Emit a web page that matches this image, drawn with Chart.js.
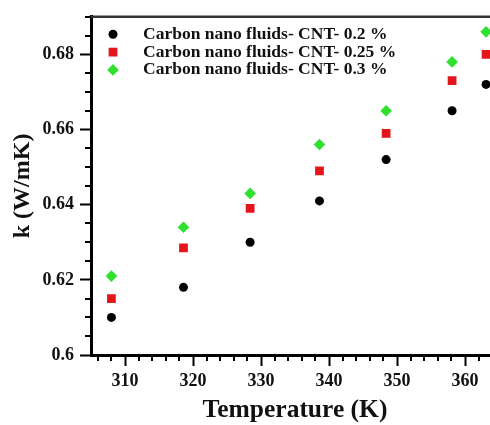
<!DOCTYPE html>
<html>
<head>
<meta charset="utf-8">
<script src="https://cdn.jsdelivr.net/npm/chart.js@4"></script>
<style>
  html, body { margin: 0; padding: 0; overflow: hidden; background: #fff; }
  canvas { display: block; }
</style>
</head>
<body>
<canvas id="myChart" width="520" height="425"></canvas>
<script>
var temperature = [308, 318.6, 328.4, 338.6, 348.4, 358.1, 363.1];
var cnt02  = [0.610, 0.618, 0.630, 0.641, 0.652, 0.665, 0.672];
var cnt025 = [0.615, 0.6285, 0.639, 0.649, 0.659, 0.673, 0.680];
var cnt03  = [0.621, 0.634, 0.643, 0.656, 0.665, 0.678, 0.686];
var seriesNames = ['Carbon nano fluids- CNT- 0.2 %', 'Carbon nano fluids- CNT- 0.25 %', 'Carbon nano fluids- CNT- 0.3 %'];
var xTicks = [310, 320, 330, 340, 350, 360];
var yTicks = [0.6, 0.62, 0.64, 0.66, 0.68];

var font = 'Liberation Serif';

function pts(ys) {
    return ys.map((y, i) => ({x: temperature[i], y: y}));
}

// minor ticks, top frame line and the legend inside the plot
var frame = {
    id: 'frame',
    afterDraw(chart) {
        var c = chart.ctx, a = chart.chartArea;
        var xs = chart.scales.x, ys = chart.scales.y;
        c.save();
        c.strokeStyle = '#000';
        c.lineWidth = 2;
        c.beginPath();
        for (var v = 306; v <= xs.max; v += 2) {
            if (v % 10 === 0) continue;
            var px = Math.round(xs.getPixelForValue(v));
            c.moveTo(px, a.bottom); c.lineTo(px, a.bottom + 6);
        }
        for (var i = 1; 0.6 + i * 0.005 <= ys.max + 1e-9; i++) {
            if (i % 4 === 0) continue;
            var py = Math.round(ys.getPixelForValue(0.6 + i * 0.005));
            c.moveTo(a.left - 6, py); c.lineTo(a.left, py);
        }
        c.stroke();

        c.strokeStyle = '#333';
        c.lineWidth = 2.5;
        c.beginPath();
        c.moveTo(a.left, a.top); c.lineTo(a.right, a.top); c.lineTo(a.right, a.bottom);
        c.stroke();

        // legend
        c.font = 'bold 17.5px ' + font;
        c.textBaseline = 'middle';
        chart.data.datasets.forEach(function(ds, k) {
            var ly = a.top + 17.5 + 17.8 * k;
            var lx = a.left + 22;
            c.fillStyle = ds.backgroundColor;
            Chart.helpers.drawPoint(c, {pointStyle: ds.pointStyle, radius: ds.pointRadius, rotation: 0, borderWidth: 0}, lx, ly);
            c.fillStyle = '#111';
            c.fillText(ds.label, a.left + 52, ly);
        });
        c.restore();
    }
};

var ctx = document.getElementById('myChart').getContext('2d');

var chart = new Chart(ctx, {
    type: 'scatter',
    data: {
        datasets: [{
            label: seriesNames[0],
            data: pts(cnt02),
            backgroundColor: '#000',
            borderColor: '#000',
            pointStyle: 'circle',
            pointRadius: 4.5,
            borderWidth: 0
        }, {
            label: seriesNames[1],
            data: pts(cnt025),
            backgroundColor: '#e3161c',
            borderColor: '#e3161c',
            pointStyle: 'rect',
            pointRadius: 6.2,
            borderWidth: 0
        }, {
            label: seriesNames[2],
            data: pts(cnt03),
            backgroundColor: '#2fe02f',
            borderColor: '#2fe02f',
            pointStyle: 'rectRot',
            pointRadius: 5.8,
            borderWidth: 0
        }]
    },
    options: {
        responsive: false,
        animation: false,
        layout: {padding: {left: 0, top: 6, right: 21, bottom: 0}},
        plugins: {
            legend: {display: false},
            tooltip: {enabled: false}
        },
        scales: {
            x: {
                type: 'linear',
                min: 305,
                max: 365,
                afterBuildTicks: s => { s.ticks = xTicks.map(v => ({value: v})); },
                afterFit: s => { s.height = 70; },
                grid: {drawOnChartArea: false, tickLength: 11, tickWidth: 2, tickColor: '#000'},
                border: {width: 3, color: '#000'},
                ticks: {font: {family: font, size: 18, weight: 'bold'}, color: '#111', padding: 5, maxRotation: 0},
                title: {display: true, text: 'Temperature (K)', font: {family: font, size: 25.5, weight: 'bold'}, color: '#111', padding: {top: 0, bottom: -1}}
            },
            y: {
                min: 0.6,
                max: 0.69,
                afterBuildTicks: s => { s.ticks = yTicks.map(v => ({value: v})); },
                afterFit: s => { s.width = 91; },
                grid: {drawOnChartArea: false, tickLength: 11, tickWidth: 2, tickColor: '#000'},
                border: {width: 3, color: '#000'},
                ticks: {font: {family: font, size: 18, weight: 'bold'}, color: '#111', padding: 6,
                        callback: v => String(+v.toFixed(3))},
                title: {display: true, text: 'k (W/mK)', font: {family: font, size: 24, weight: 'bold'}, color: '#111', padding: {top: 8, bottom: 0}}
            }
        }
    },
    plugins: [frame]
});
</script>
</body>
</html>
